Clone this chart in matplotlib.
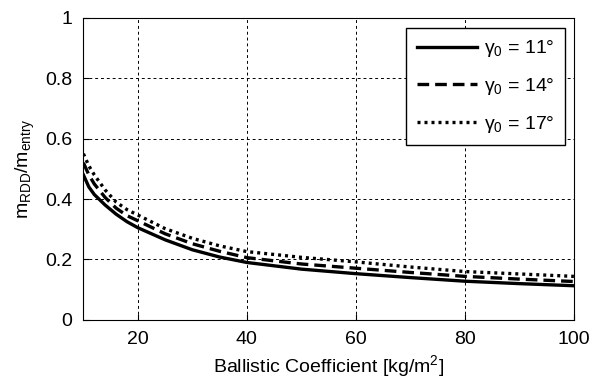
import matplotlib.pyplot as plt

plt.rcParams["font.family"] = ["Liberation Sans", "DejaVu Sans"]
plt.rcParams["mathtext.default"] = "regular"

# ballistic coefficient [kg/m^2]
bc = [10, 11, 12, 14, 16, 18, 20, 25, 30, 35, 40, 50, 60, 70, 80, 90, 100]

# mass fraction m_RDD / m_entry for each entry angle
m_11 = [0.48, 0.44, 0.415, 0.38, 0.35, 0.325, 0.305, 0.265, 0.232, 0.208, 0.19,
        0.168, 0.153, 0.14, 0.128, 0.12, 0.113]
m_14 = [0.52, 0.48, 0.45, 0.405, 0.37, 0.345, 0.328, 0.285, 0.252, 0.227, 0.206,
        0.185, 0.171, 0.157, 0.144, 0.135, 0.127]
m_17 = [0.55, 0.51, 0.48, 0.43, 0.39, 0.365, 0.347, 0.302, 0.27, 0.245, 0.226,
        0.207, 0.192, 0.175, 0.16, 0.152, 0.144]

fig = plt.figure(figsize=(6, 3.79), dpi=100)
ax = fig.add_axes([0.139, 0.156, 0.8175, 0.797])

ax.plot(bc, m_11, "k-", lw=2.4, label=r"$\gamma_0$ = 11°")
ax.plot(bc, m_14, "k--", lw=2.4, dashes=(3.5, 1.8), label=r"$\gamma_0$ = 14°")
ax.plot(bc, m_17, "k:", lw=2.4, dashes=(0.9, 1.2), label=r"$\gamma_0$ = 17°")

ax.set_xlim(10, 100)
ax.set_ylim(0, 1)
ax.set_xticks([20, 40, 60, 80, 100])
ax.set_yticks([0, 0.2, 0.4, 0.6, 0.8, 1])
ax.set_yticklabels(["0", "0.2", "0.4", "0.6", "0.8", "1"])
ax.tick_params(labelsize=14, direction="in", length=4)
ax.tick_params(axis="x", pad=8)
ax.tick_params(axis="y", pad=8)
ax.grid(True, color="k", linestyle=(0, (3, 3)), lw=0.7)

ax.set_xlabel("Ballistic Coefficient [kg/m$^2$]", fontsize=14, labelpad=4)
ax.set_ylabel("m$_{RDD}$/m$_{entry}$", fontsize=14, labelpad=6)

leg = ax.legend(loc="upper right", fontsize=14, handlelength=3.1,
                handletextpad=0.35, fancybox=False, framealpha=1,
                borderpad=0.55, labelspacing=0.85, borderaxespad=0,
                bbox_to_anchor=(0.982, 0.967))
leg.get_frame().set_edgecolor("k")
leg.get_frame().set_linewidth(1.0)

plt.savefig("out.png", dpi=100)
